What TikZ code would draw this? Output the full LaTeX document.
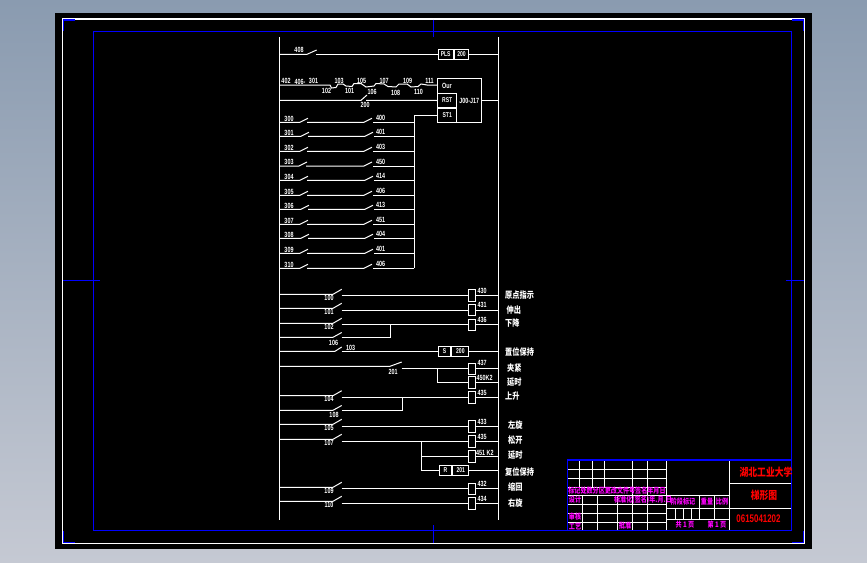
\documentclass[tikz,border=0pt]{standalone}
\usepackage{fontspec}
\setmainfont{Liberation Sans}
\newfontfamily\lbfont[FakeStretch=0.72]{Liberation Sans}
\newfontfamily\cjk[FakeStretch=0.8]{Noto Sans CJK SC}
\definecolor{cadblue}{RGB}{0,0,255}
\definecolor{cadmag}{RGB}{255,0,255}
\definecolor{bgT}{RGB}{138,155,176}
\definecolor{bgB}{RGB}{197,201,211}
\tikzset{
  wire/.style={white,line width=1pt},
  frameblue/.style={cadblue,line width=1.1pt},
  lbl/.style={font=\lbfont\bfseries\fontsize{7.5}{8}\selectfont,text=white,inner sep=0pt},
  cn/.style={font=\cjk\bfseries\fontsize{9}{9}\selectfont,text=white,inner sep=0pt},
  coil/.style={draw=white,line width=1pt,minimum width=7.4pt,minimum height=11.4pt,inner sep=0pt},
  cell/.style={draw=white,line width=1pt,minimum height=10.6pt,inner sep=0pt,text=white,font=\lbfont\bfseries\fontsize{7}{8}\selectfont},
  mg/.style={font=\cjk\bfseries\fontsize{7.6}{8}\selectfont,text=cadmag,inner sep=0pt},
  tb/.style={white,line width=.9pt},
  rd/.style={text=red,inner sep=0pt},
}
\newcommand\SwRow[5]{% y, x1, x2, label left, label right
  \draw[wire] (railL|-0,#1) -- (#2,#1) -- (#2+8,#1-4);
  \draw[wire] (#2+7,#1) -- (#3,#1) -- (#3+8,#1-4);
  \draw[wire] (#3+9,#1) -- (busA|-0,#1);
  \node[lbl] at (289,#1-3.6) {#4};
  \node[lbl] at (380.5,#1-4) {#5};
}
\newcommand\Rung[5]{%
  \node[coil] (#1) at (472,#3) {};
  \draw[wire] (railL|-0,#2) -- (333,#2) -- (341.7,#2-5);
  \draw[wire] (341.7,#3) -- (#1.west);
  \draw[wire] (#1.east) -- (railR|-0,#3);
  \node[lbl] at (329,#2+3.6) {#4};
  \node[lbl,anchor=west] at (477.5,#3-4.8) {#5};
}
\begin{document}
\begin{tikzpicture}[x=1pt,y=-1pt]
\useasboundingbox (0,0) rectangle (867,562);
\shade[top color=bgT,bottom color=bgB] (0,0) rectangle (867,562);
\fill[black] (55,13) rectangle (812,549);
\draw[white,line width=1.1pt] (62.3,19) rectangle (804.3,543.3);
\draw[frameblue] (93.3,31.3) rectangle (791.5,530.3);
% ticks and corners
\draw[frameblue] (63.6,31) -- (63.6,20) -- (75,20);
\draw[frameblue] (63.6,531) -- (63.6,542.3) -- (75,542.3);
\draw[frameblue] (803.2,31) -- (803.2,20) -- (792,20);
\draw[frameblue] (803.2,531) -- (803.2,542.3) -- (792,542.3);
\draw[frameblue] (63,280.3) -- (100,280.3);
\draw[frameblue] (786,280.3) -- (804,280.3);
\draw[frameblue] (433.3,19.5) -- (433.3,37);
\draw[frameblue] (433.3,525) -- (433.3,543);
% rails
\coordinate (railL) at (279.7,0);
\coordinate (railR) at (498.7,0);
\coordinate (busA) at (414.3,0);
\draw[wire] (279.7,37) -- (279.7,520);
\draw[wire] (498.7,37) -- (498.7,520);
% PLS
\node[cell,anchor=west,minimum width=15pt] (pa) at (437.7,54.3) {PLS};
\node[cell,anchor=west,minimum width=14.6pt] (pb) at (pa.east) {200};
\draw[wire] (railL|-0,54.3) -- (307,54.3) -- (316.7,50);
\draw[wire] (316,54.3) -- (pa.west);
\draw[wire] (pb.east) -- (railR|-0,54.3);
\node[lbl] at (299,49.8) {408};
% MC box
\node[draw=white,line width=1pt,minimum width=44pt,minimum height=44pt,inner sep=0pt] (mc) at (459.7,100.3) {};
\node[lbl] at (447,85.5) {Our};
\node[cell,minimum width=19pt,minimum height=14.4pt] (rst) at (447.2,100.5) {RST};
\node[cell,minimum width=19pt,minimum height=14.6pt] (st1) at (447.2,115.3) {ST1};
\node[lbl] at (469.2,101) {J00-J17};
\draw[wire] (mc.east|-0,100.3) -- (railR|-0,100.3);
\draw[wire] (railL|-0,100.3) -- (361,100.3) -- (367,95);
\draw[wire] (366,100.3) -- (rst.west);
\node[lbl] at (365,104.5) {200};
\draw[wire] (st1.west) -- (busA|-0,115.3) -- (busA|-0,268.3);
% series chain
\draw[wire] (279.7,85) -- (319,85) -- (330,85) -- (331.5,88) -- (336,87.5) -- (338,84) -- (343,84) -- (346,86)
  -- (352,86.5) -- (354,83.5) -- (361,83.5) -- (366,87) -- (374,86) -- (376,83.5) -- (384,84) -- (388,86.5) -- (396,87)
  -- (399,84) -- (407,84) -- (411,87) -- (418,86.5) -- (421,84) -- (427,85) -- (437.7,85);
\node[lbl] at (286,81) {402};
\node[lbl] at (300,81.5) {406-};
\node[lbl] at (313.5,81) {301};
\node[lbl] at (326.5,90.5) {102};
\node[lbl] at (339,81) {103};
\node[lbl] at (349.5,91) {101};
\node[lbl] at (361.5,81) {105};
\node[lbl] at (372,92) {106};
\node[lbl] at (384,81) {107};
\node[lbl] at (395.5,92.5) {108};
\node[lbl] at (407.5,81) {109};
\node[lbl] at (418.5,92) {110};
\node[lbl] at (429.5,81) {111};
% switch rows
\SwRow{122.3}{300}{364}{300}{400}
\SwRow{136.3}{301}{365}{301}{401}
\SwRow{151.3}{300}{364}{302}{403}
\SwRow{166}{299}{364}{303}{450}
\SwRow{180.3}{300}{365}{304}{414}
\SwRow{195.3}{300}{364}{305}{406}
\SwRow{209.3}{301}{365}{306}{413}
\SwRow{224.3}{300}{364}{307}{451}
\SwRow{238.3}{301}{365}{308}{404}
\SwRow{253.3}{300}{365}{309}{401}
\SwRow{268.3}{300}{364}{310}{406}
% lower rungs
\Rung{c430}{294.3}{295.3}{100}{430}
\Rung{c431}{308.3}{310}{101}{431}
\Rung{c436}{323.3}{324.7}{102}{436}
\draw[wire] (railL|-0,337.3) -- (333,337.3) -- (341.7,332.5);
\draw[wire] (341.7,337.3) -- (390.3,337.3) -- (390.3,324.7);
\node[lbl] at (333.5,343) {106};
% S200
\node[cell,anchor=west,minimum width=12.7pt] (sa) at (437.7,351.3) {S};
\node[cell,anchor=west,minimum width=16.9pt] (sb) at (sa.east) {200};
\draw[wire] (railL|-0,351.3) -- (335,351.3) -- (341.7,347);
\draw[wire] (341.7,351.3) -- (sa.west);
\draw[wire] (sb.east) -- (railR|-0,351.3);
\node[lbl] at (350.5,348) {103};
% 437
\node[coil] (c437) at (472,368.7) {};
\draw[wire] (railL|-0,366.3) -- (390,366.3) -- (401.7,362);
\draw[wire] (401.7,368.7) -- (c437.west);
\draw[wire] (c437.east) -- (railR|-0,368.7);
\node[lbl] at (393,371.5) {201};
\node[lbl,anchor=west] at (477.5,363.2) {437};
\node[coil] (c450) at (472,382.3) {};
\draw[wire] (437.7,368.7) -- (437.7,382.3) -- (c450.west);
\draw[wire] (c450.east) -- (railR|-0,382.3);
\node[lbl,anchor=west] at (476.5,378.2) {450K2};
% 435
\Rung{c435}{395.7}{397.3}{104}{435}
\draw[wire] (railL|-0,410.3) -- (333,410.3) -- (341.7,405.5);
\draw[wire] (342,410.3) -- (402.3,410.3) -- (402.3,397.3);
\node[lbl] at (334,415) {108};
% 433, 435
\Rung{c433}{424.3}{426.3}{105}{433}
\Rung{c435b}{439.3}{441.3}{107}{435}
\node[coil] (c451) at (472,456.3) {};
\draw[wire] (421.3,441.3) -- (421.3,470.3);
\draw[wire] (421.3,456.3) -- (c451.west);
\draw[wire] (c451.east) -- (railR|-0,456.3);
\node[lbl,anchor=west] at (476,452.5) {451 K2};
\node[cell,anchor=west,minimum width=12.6pt] (ra) at (438.7,470.3) {R};
\node[cell,anchor=west,minimum width=16pt] (rb) at (ra.east) {201};
\draw[wire] (421.3,470.3) -- (ra.west);
\draw[wire] (rb.east) -- (railR|-0,470.3);
\Rung{c432}{487.3}{488.8}{109}{432}
\Rung{c434}{501.3}{503.3}{110}{434}
% right notes
\node[cn,anchor=west] at (505,295.5) {原点指示};
\node[cn,anchor=west] at (506.5,310) {伸出};
\node[cn,anchor=west] at (505,323.5) {下降};
\node[cn,anchor=west] at (505,351.5) {置位保持};
\node[cn,anchor=west] at (507,368) {夹紧};
\node[cn,anchor=west] at (507,382.5) {延时};
\node[cn,anchor=west] at (505,396.5) {上升};
\node[cn,anchor=west] at (508,425.5) {左旋};
\node[cn,anchor=west] at (508,440.5) {松开};
\node[cn,anchor=west] at (508,455) {延时};
\node[cn,anchor=west] at (505,471.5) {复位保持};
\node[cn,anchor=west] at (508,487.5) {缩回};
\node[cn,anchor=west] at (508,503.5) {右旋};
% title block
\foreach \yy in {469,478,487.3,495.7,504.3,513.3,522.3} \draw[tb] (567.3,\yy) -- (666.3,\yy);
\foreach \xx in {579.3,592.3,604.3} \draw[tb] (\xx,460) -- (\xx,487.3);
\foreach \xx in {632.3,647.7,666.3} \draw[tb] (\xx,460) -- (\xx,530);
\draw[tb] (582.3,495.7) -- (582.3,530);
\draw[tb] (597.3,495.7) -- (597.3,530);
\draw[tb] (617.3,495.7) -- (617.3,530);
\foreach \yy in {495.7,508.3,519.3} \draw[tb] (666.3,\yy) -- (729,\yy);
\draw[tb] (699.3,495.7) -- (699.3,519.3);
\draw[tb] (714.3,495.7) -- (714.3,519.3);
\foreach \xx in {675.3,683.3,691.3} \draw[tb] (\xx,508.3) -- (\xx,519.3);
\draw[tb] (729,460) -- (729,530);
\draw[tb] (729,483.3) -- (791.3,483.3);
\draw[tb] (729,508.3) -- (791.3,508.3);
\draw[frameblue] (567.3,530.3) -- (567.3,460) -- (791.5,460);
\node[mg] at (617,491) {标记处数分区更改文件号签名年月日};
\node[mg] at (575,500) {设计};
\node[mg] at (643,500) {标准化(签名)年.月.日};
\node[mg] at (575,517) {审核};
\node[mg] at (575,526.5) {工艺};
\node[mg] at (625,526) {批准};
\node[mg] at (683,502) {阶段标记};
\node[mg] at (707,502) {重量};
\node[mg] at (722,502) {比例};
\node[mg] at (685,525) {共 1 页};
\node[mg] at (717,525) {第 1 页};
\node[rd,font=\cjk\bfseries\fontsize{11}{11}\selectfont] at (766,472) {湖北工业大学};
\node[rd,font=\cjk\bfseries\fontsize{11}{12}\selectfont] at (764,495.5) {梯形图};
\node[rd,font=\lbfont\bfseries\fontsize{11}{12}\selectfont] at (758.5,519) {0615041202};
\end{tikzpicture}
\end{document}
